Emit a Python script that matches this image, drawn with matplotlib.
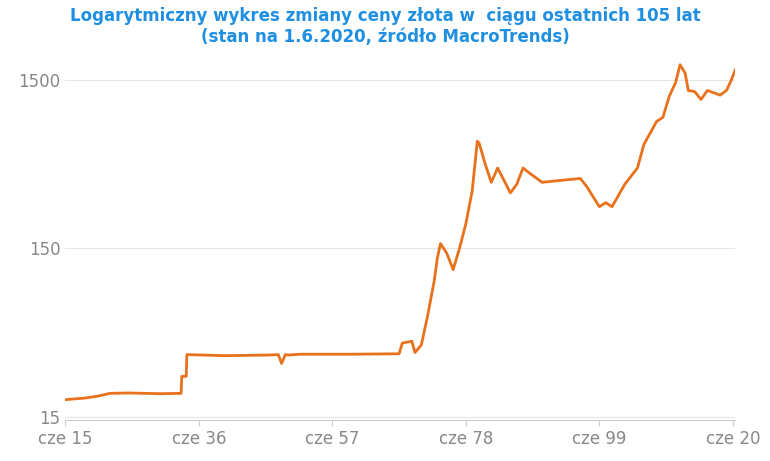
import matplotlib.pyplot as plt
from matplotlib.ticker import FixedLocator, NullLocator

years = [1915, 1918, 1920, 1922, 1925, 1930, 1933.2, 1933.3, 1934.0, 1934.1, 1940, 1947,
         1948.5, 1949, 1949.6, 1950, 1952, 1960, 1967.5, 1968, 1969.5, 1970, 1971,
         1972, 1973, 1973.5, 1974, 1974.5, 1975, 1976, 1977, 1978, 1979, 1979.8, 1980.1,
         1980.5, 1981, 1982, 1983, 1984, 1985, 1986, 1987, 1988, 1990, 1993, 1996,
         1997, 1999, 2000, 2001, 2003, 2005, 2006, 2008, 2009, 2010, 2011, 2011.7,
         2012.5, 2013, 2014, 2015, 2016, 2017, 2018, 2019, 2019.7, 2020.4]
prices = [18.9, 19.3, 19.8, 20.6, 20.7, 20.5, 20.6, 26, 26, 35, 34.5, 34.8,
          35, 31, 35, 34.8, 35.2, 35.2, 35.4, 41, 42, 36, 40,
          60, 95, 130, 160, 150, 140, 112, 150, 210, 330, 650, 630,
          560, 480, 370, 450, 380, 320, 360, 450, 420, 370, 380, 390,
          350, 265, 280, 265, 360, 450, 620, 850, 900, 1200, 1450, 1850,
          1650, 1300, 1280, 1150, 1300, 1260, 1220, 1300, 1480, 1730]

ticks = [1915, 1936, 1957, 1978, 1999, 2020]
tick_labels = ["cze 15", "cze 36", "cze 57", "cze 78", "cze 99", "cze 20"]

fig, ax = plt.subplots(figsize=(7.7, 4.61), dpi=100)
fig.subplots_adjust(left=0.085, right=0.955, top=0.87, bottom=0.09)
ax.plot(years, prices, color="#E8711C", lw=2)
ax.set_yscale("log")
ax.set_ylim(14.4, 1975)
ax.set_xlim(1915, 2020.4)
ax.yaxis.set_major_locator(FixedLocator([15, 150, 1500]))
ax.yaxis.set_minor_locator(NullLocator())
ax.set_yticklabels(["15", "150", "1500"])
ax.set_xticks(ticks)
ax.set_xticklabels(tick_labels)
ax.tick_params(colors="#888888", labelsize=12, length=0)
ax.tick_params(axis="x", length=4, color="#cccccc")
ax.grid(axis="y", color="#e6e6e6", lw=0.8)
for s in ["top", "right", "left"]:
    ax.spines[s].set_visible(False)
ax.spines["bottom"].set_color("#cccccc")
fig.suptitle("Logarytmiczny wykres zmiany ceny złota w  ciągu ostatnich 105 lat\n"
             "(stan na 1.6.2020, źródło MacroTrends)",
             color="#1E8FE1", fontsize=12, fontweight="bold", y=0.985)
fig.savefig("out.png")
